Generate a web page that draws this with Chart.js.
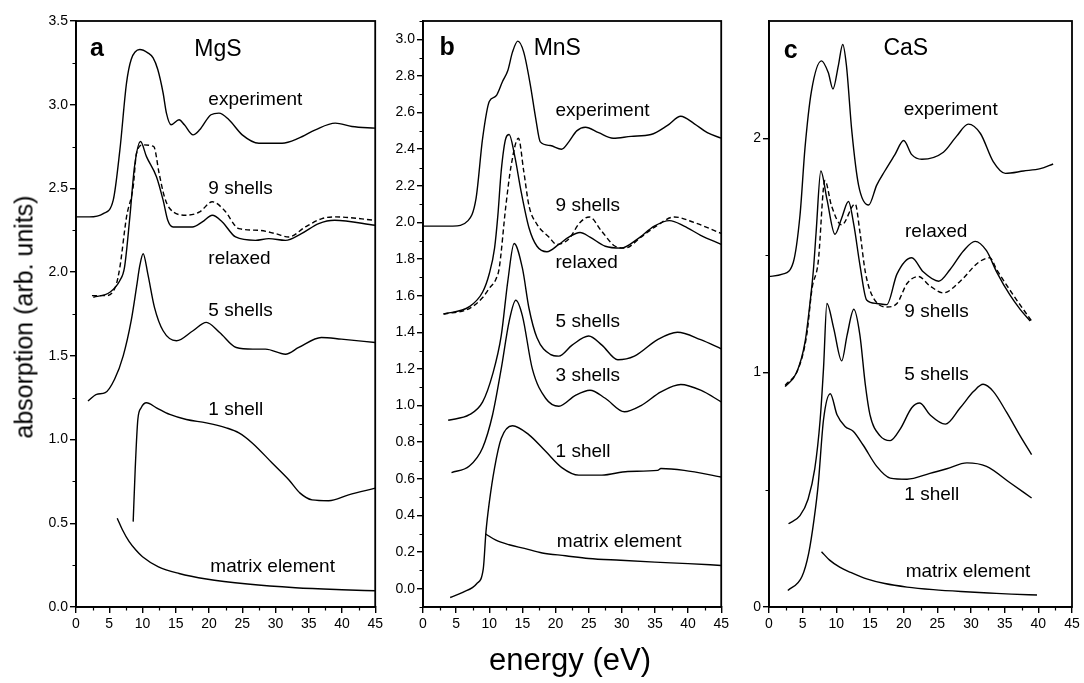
<!DOCTYPE html>
<html><head><meta charset="utf-8">
<script src="https://cdn.jsdelivr.net/npm/chart.js@4/dist/chart.umd.min.js"></script>
<style>
html,body{margin:0;padding:0;background:#fff;}
body{width:1084px;height:683px;overflow:hidden;position:relative;font-family:'Liberation Sans',Arial,sans-serif;}
canvas{position:absolute;top:0;}
#ytitle{position:absolute;left:24px;top:317px;transform:translate(-50%,-50%) rotate(-90deg);font-size:25px;white-space:nowrap;color:#000;}
#xtitle{position:absolute;left:470px;width:200px;top:642px;text-align:center;font-size:31px;white-space:nowrap;color:#000;}
</style></head>
<body>
<canvas id="ca" width="386" height="683" style="left:0px"></canvas>
<canvas id="cb" width="352" height="683" style="left:380px"></canvas>
<canvas id="cc" width="352" height="683" style="left:732px"></canvas>
<div id="ytitle">absorption (arb. units)</div>
<div id="xtitle">energy (eV)</div>
<script>
// ---------- tick labels ----------
const xTicks = [0,5,10,15,20,25,30,35,40,45];
const yTicksA = [0,0.5,1,1.5,2,2.5,3,3.5];
const yTicksB = [0,0.2,0.4,0.6,0.8,1,1.2,1.4,1.6,1.8,2,2.2,2.4,2.6,2.8,3];
const yTicksC = [0,1,2];

// ---------- panel a : MgS ----------
const mgsExpX = [0,2,4.1,5.6,6.6,7.6,8.3,9.6,10.8,11.6,12.3,13.1,13.6,14.3,15.5,16.3,17.6,18.6,20.3,21.5,23,25,27.5,31,33.5,36,39,41.5,45];
const mgsExpY = [2.33,2.33,2.35,2.43,2.73,3.13,3.27,3.33,3.31,3.28,3.21,3.07,2.95,2.88,2.91,2.88,2.82,2.85,2.94,2.95,2.91,2.82,2.77,2.77,2.80,2.85,2.89,2.87,2.86];
const mgsNineX = [2.4,4.6,6.0,6.6,7.6,8.6,9.1,10.1,11.7,12.5,13.3,14.1,16.6,18.6,20.5,22.3,24.5,27.5,30,32,34.5,37,39,45];
const mgsNineY = [1.86,1.86,1.92,2.03,2.33,2.51,2.71,2.76,2.75,2.59,2.45,2.38,2.34,2.36,2.42,2.37,2.26,2.25,2.23,2.21,2.27,2.32,2.33,2.31];
const mgsRelX = [2.6,5.1,6.6,7.3,8.1,8.8,9.7,10.6,12.1,13.1,13.8,14.6,17.5,19,20.5,22,24,27,29,31.5,33.9,36.5,38.9,45];
const mgsRelY = [1.85,1.88,1.95,2.03,2.33,2.63,2.78,2.69,2.57,2.43,2.31,2.27,2.27,2.30,2.34,2.30,2.21,2.19,2.20,2.19,2.23,2.29,2.31,2.28];
const mgsFiveX = [1.8,3.1,4.4,5.8,7.1,8.3,9.1,9.6,10.1,10.8,11.8,13.1,15.1,17.6,19.6,21.6,24.1,26.6,28.5,31.5,33.5,36.9,39.9,45];
const mgsFiveY = [1.23,1.27,1.28,1.36,1.50,1.71,1.91,2.04,2.11,1.99,1.79,1.65,1.59,1.65,1.70,1.64,1.55,1.54,1.54,1.51,1.55,1.61,1.60,1.58];
const mgsOneX = [8.6,8.9,9.3,9.8,10.6,12.1,14.1,16.6,19.6,22.6,24.5,26.5,29.5,32,33.7,35.5,38,41,45];
const mgsOneY = [0.51,0.82,1.12,1.19,1.22,1.19,1.15,1.12,1.10,1.07,1.04,0.98,0.86,0.76,0.68,0.64,0.635,0.67,0.71];
const mgsMatX = [6.2,7,8,9,10,12.4,15.5,19.6,25.8,33,40,45];
const mgsMatY = [0.53,0.46,0.39,0.34,0.30,0.24,0.20,0.167,0.137,0.115,0.103,0.097];

// ---------- panel b : MnS ----------
const mnsExpX = [0,4.5,6.8,8,9,10,11,12,12.8,13.5,14.3,15.2,16.2,17,17.7,19.2,20.9,22,23.2,24.5,26.5,28.7,31.4,34.4,36.9,38.9,40.9,42.9,45];
const mnsExpY = [1.98,1.98,2.01,2.13,2.46,2.66,2.69,2.77,2.83,2.93,2.99,2.93,2.75,2.57,2.44,2.42,2.40,2.44,2.50,2.52,2.49,2.46,2.47,2.48,2.53,2.58,2.54,2.49,2.46];
const mnsNineX = [3.1,7,9,10,11,11.5,12.5,13.3,14.4,15.2,16,17.2,19,20.2,22,23.7,25.1,27,29,30.5,32.9,35.4,37.9,40.9,45];
const mnsNineY = [1.50,1.53,1.59,1.64,1.69,1.75,2.09,2.31,2.46,2.28,2.09,1.99,1.92,1.88,1.91,2.00,2.03,1.95,1.87,1.86,1.92,1.985,2.03,2.00,1.94];
const mnsRelX = [3.1,7,9,10,10.8,11.3,11.8,12.5,13,13.8,14.8,16,17.2,18.7,20.5,22,23.7,25.2,27.5,29.9,32.4,34.9,37.2,39.4,41.9,45];
const mnsRelY = [1.50,1.54,1.62,1.72,1.86,2.04,2.28,2.46,2.48,2.37,2.17,1.97,1.87,1.84,1.88,1.92,1.945,1.92,1.87,1.86,1.91,1.98,2.01,1.98,1.93,1.88];
const mnsFiveX = [3.8,7,9,10.5,11.8,12.8,13.75,15,16,17.2,19.2,20.5,22.5,25,27,29.4,31.9,35.4,38.4,41.9,45];
const mnsFiveY = [0.92,0.95,1.02,1.17,1.38,1.68,1.885,1.75,1.53,1.37,1.28,1.27,1.33,1.38,1.33,1.25,1.27,1.36,1.40,1.36,1.31];
const mnsThreeX = [4.3,7,9,10.5,11.8,13,14,15,16.5,18.5,20.5,23,25.2,27.5,30.4,32.9,35.9,38.9,41.9,45];
const mnsThreeY = [0.634,0.67,0.77,0.95,1.20,1.46,1.575,1.49,1.20,1.04,0.996,1.056,1.084,1.04,0.966,1.00,1.075,1.115,1.084,1.02];
const mnsOneX = [4.1,6,8.1,9.1,9.5,10,10.8,11.8,13.5,16,18.5,21,23.5,27,30.9,35.4,35.9,39.4,45];
const mnsOneY = [-0.048,-0.02,0.027,0.11,0.31,0.47,0.66,0.82,0.89,0.84,0.75,0.66,0.62,0.62,0.64,0.646,0.656,0.646,0.61];
const mnsMatX = [9.4,11,13,15.3,18,21.5,25,29.8,35,40,45];
const mnsMatY = [0.30,0.265,0.24,0.22,0.195,0.18,0.165,0.155,0.145,0.137,0.127];

// ---------- panel c : CaS ----------
const casExpX = [0,2,3.6,4.6,5.35,6.3,7.8,8.8,9.5,10.3,10.95,11.5,12.3,13.3,14.8,16,17.2,18.7,20,21.2,22.7,25.9,27.9,29.6,31.4,33.3,35.1,37.8,40.3,42.2];
const casExpY = [1.41,1.42,1.47,1.67,1.96,2.20,2.33,2.28,2.21,2.31,2.40,2.31,2.03,1.80,1.715,1.80,1.86,1.93,1.99,1.93,1.91,1.94,2.01,2.06,2.02,1.90,1.85,1.86,1.87,1.89];
const casRelX = [2.4,4.1,5.35,6.1,6.6,7,7.7,8.6,9.8,10.8,11.8,12.6,13.5,14.5,16,17.5,19,21.2,22.9,25.2,26.9,28.9,30.6,32.3,33.8,35.8,37.3,38.8];
const casRelY = [0.94,1.00,1.13,1.30,1.44,1.60,1.86,1.74,1.59,1.66,1.73,1.63,1.46,1.31,1.295,1.29,1.42,1.49,1.43,1.39,1.44,1.52,1.56,1.52,1.43,1.33,1.27,1.22];
const casNineX = [2.4,4.4,5.6,6.4,7.3,8.3,9.3,10.8,12.8,13.5,14.3,15.3,17.5,19,20.5,22.2,23.9,25.9,28.4,31.1,32.8,33.8,36.3,39];
const casNineY = [0.945,1.02,1.16,1.36,1.47,1.82,1.71,1.63,1.72,1.60,1.43,1.33,1.28,1.295,1.38,1.41,1.37,1.34,1.39,1.47,1.49,1.44,1.33,1.22];
const casFiveX = [2.9,4.6,5.8,6.8,7.6,8.1,8.6,9.6,10.8,11.6,12.6,13.5,14.3,15,16.5,18,19.5,21.2,22.4,23.9,26.2,28.4,30.4,31.8,33.3,35.3,37.3,39];
const casFiveY = [0.355,0.39,0.46,0.59,0.80,1.02,1.295,1.19,1.05,1.16,1.27,1.16,0.95,0.82,0.73,0.71,0.76,0.85,0.87,0.82,0.78,0.85,0.92,0.95,0.92,0.83,0.73,0.65];
const casOneX = [2.8,4.9,5.9,6.7,7.3,8.1,9.1,10.1,11.3,12.5,14,16,18,20.5,23.9,26.4,29.4,32.3,35.8,39];
const casOneY = [0.07,0.13,0.23,0.376,0.52,0.80,0.91,0.82,0.77,0.75,0.69,0.60,0.55,0.545,0.57,0.59,0.615,0.60,0.53,0.465];
const casMatX = [7.8,9,10.5,12.1,14.5,17.2,20.5,24.4,28.5,32.6,36,39.8];
const casMatY = [0.236,0.2,0.17,0.148,0.12,0.10,0.085,0.074,0.066,0.06,0.055,0.051];

// ---------- text ----------
const curveFont = "19px 'Liberation Sans', Arial, sans-serif";
const nameFont = "23px 'Liberation Sans', Arial, sans-serif";
const letterFont = "bold 25px 'Liberation Sans', Arial, sans-serif";
const FONT = "'Liberation Sans', Arial, sans-serif";

const labelsA = [
  {t:'a', x:2.1, y:3.33, f:letterFont}, {t:'MgS', x:17.8, y:3.33, f:nameFont},
  {t:'experiment', x:19.9, y:3.03}, {t:'9 shells', x:19.9, y:2.50}, {t:'relaxed', x:19.9, y:2.08},
  {t:'5 shells', x:19.9, y:1.77}, {t:'1 shell', x:19.9, y:1.18}, {t:'matrix element', x:20.2, y:0.24}
];
const labelsB = [
  {t:'b', x:2.5, y:2.95, f:letterFont}, {t:'MnS', x:16.7, y:2.95, f:nameFont},
  {t:'experiment', x:20, y:2.61}, {t:'9 shells', x:20, y:2.09}, {t:'relaxed', x:20, y:1.78},
  {t:'5 shells', x:20, y:1.46}, {t:'3 shells', x:20, y:1.16}, {t:'1 shell', x:20, y:0.75},
  {t:'matrix element', x:20.2, y:0.257}
];
const labelsC = [
  {t:'c', x:2.2, y:2.37, f:letterFont}, {t:'CaS', x:17.0, y:2.38, f:nameFont},
  {t:'experiment', x:20, y:2.12}, {t:'relaxed', x:20.2, y:1.60}, {t:'9 shells', x:20.1, y:1.26},
  {t:'5 shells', x:20.1, y:0.99}, {t:'1 shell', x:20.1, y:0.48}, {t:'matrix element', x:20.3, y:0.15}
];

function mids(arr){ const r=[]; for(let i=0;i<arr.length-1;i++) r.push((arr[i]+arr[i+1])/2); return r; }

const decor = {
  id:'decor',
  afterDraw(chart, args, o){
    const {ctx, chartArea:a} = chart;
    const xs = chart.scales.x, ys = chart.scales.y;
    ctx.save();
    ctx.strokeStyle='#000';
    ctx.lineWidth=1.2;
    ctx.beginPath();
    mids(xTicks).forEach(v=>{const p=Math.round(xs.getPixelForValue(v))+0.5; ctx.moveTo(p,a.bottom); ctx.lineTo(p,a.bottom+3.5);});
    o.yMinor.forEach(v=>{const p=Math.round(ys.getPixelForValue(v))+0.5; ctx.moveTo(a.left,p); ctx.lineTo(a.left-3.5,p);});
    ctx.stroke();
    ctx.lineWidth=1.8;
    ctx.strokeRect(a.left, a.top, a.right-a.left, a.bottom-a.top);
    ctx.fillStyle='#000';
    ctx.textAlign='left'; ctx.textBaseline='middle';
    o.labels.forEach(l=>{
      ctx.font = l.f || curveFont;
      ctx.fillText(l.t, xs.getPixelForValue(l.x), ys.getPixelForValue(l.y));
    });
    ctx.restore();
  }
};

function ser(x,y,dash){
  return {data:x.map((v,i)=>({x:v,y:y[i]})), borderColor:'#000', borderWidth:1.4,
    borderDash: dash?[5,3]:[], pointRadius:0, showLine:true, fill:false,
    cubicInterpolationMode:'monotone'};
}

function panel(id, c){
  return new Chart(document.getElementById(id), {
    type:'scatter',
    data:{datasets:c.series},
    options:{
      responsive:false, animation:false, devicePixelRatio:1,
      layout:{padding:{left:0,right:c.padRight,top:21,bottom:36}},
      plugins:{legend:{display:false}, tooltip:{enabled:false}, decor:{labels:c.labels, yMinor:c.yMinor}},
      scales:{
        x:{type:'linear', min:0, max:45,
          afterBuildTicks:s=>{s.ticks=xTicks.map(v=>({value:v}));},
          afterFit:s=>{s.height=40;},
          ticks:{color:'#000', font:{size:14, family:FONT}, padding:3, maxRotation:0, autoSkip:false, callback:v=>String(v)},
          grid:{drawOnChartArea:false, drawTicks:true, tickLength:6, color:'#000', lineWidth:1.4},
          border:{display:true, color:'#000', width:1.8}},
        y:{type:'linear', min:c.yMin, max:c.yMax,
          afterBuildTicks:s=>{s.ticks=c.yTicks.map(v=>({value:v}));},
          afterFit:s=>{s.width=c.yWidth;},
          ticks:{color:'#000', font:{size:14, family:FONT}, padding:2, autoSkip:false, callback:v=>Number(v).toFixed(c.dec)},
          grid:{drawOnChartArea:false, drawTicks:true, tickLength:6, color:'#000', lineWidth:1.4},
          border:{display:true, color:'#000', width:1.8}}
      }
    },
    plugins:[decor]
  });
}

panel('ca', {yMin:0, yMax:3.5, yTicks:yTicksA, yMinor:mids(yTicksA), dec:1, yWidth:76, padRight:9, labels:labelsA,
  series:[ser(mgsExpX,mgsExpY), ser(mgsNineX,mgsNineY,true), ser(mgsRelX,mgsRelY), ser(mgsFiveX,mgsFiveY), ser(mgsOneX,mgsOneY), ser(mgsMatX,mgsMatY)]});
panel('cb', {yMin:-0.1, yMax:3.1, yTicks:yTicksB, yMinor:[-0.1].concat(mids(yTicksB)).concat([3.1]), dec:1, yWidth:43, padRight:8, labels:labelsB,
  series:[ser(mnsExpX,mnsExpY), ser(mnsNineX,mnsNineY,true), ser(mnsRelX,mnsRelY), ser(mnsFiveX,mnsFiveY), ser(mnsThreeX,mnsThreeY), ser(mnsOneX,mnsOneY), ser(mnsMatX,mnsMatY)]});
panel('cc', {yMin:0, yMax:2.5, yTicks:yTicksC, yMinor:mids(yTicksC), dec:0, yWidth:37, padRight:12, labels:labelsC,
  series:[ser(casExpX,casExpY), ser(casRelX,casRelY), ser(casNineX,casNineY,true), ser(casFiveX,casFiveY), ser(casOneX,casOneY), ser(casMatX,casMatY)]});
</script>
</body></html>
